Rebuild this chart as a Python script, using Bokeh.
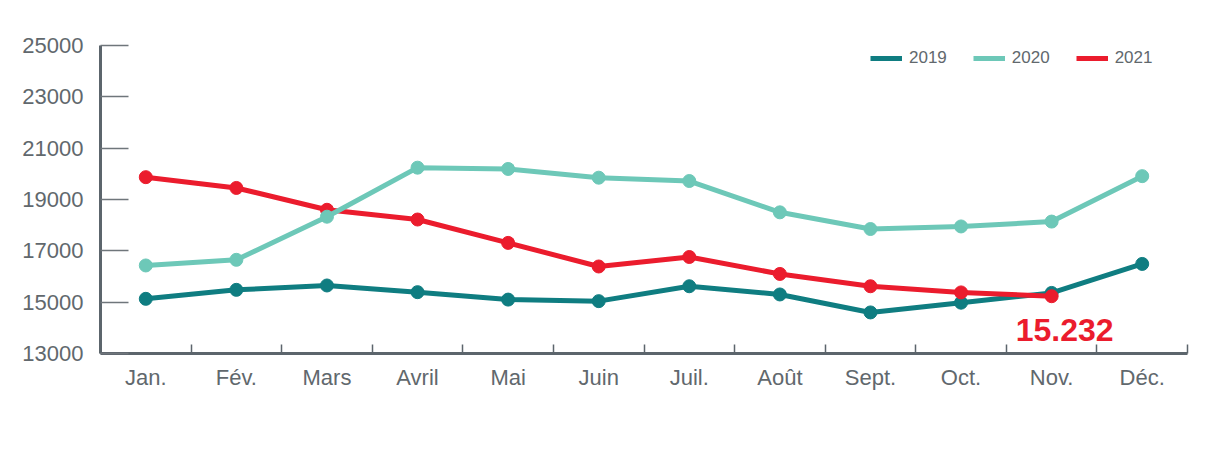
from bokeh.plotting import figure
from bokeh.models import (FixedTicker, Range1d, Legend, LegendItem, Label)
from bokeh.embed import file_html
from bokeh.resources import INLINE

months = ["Jan.", "Fév.", "Mars", "Avril", "Mai", "Juin", "Juil.", "Août",
          "Sept.", "Oct.", "Nov.", "Déc."]
y2019 = [15130, 15480, 15650, 15390, 15100, 15040, 15620, 15300, 14600, 14980, 15360, 16490]
y2020 = [16430, 16650, 18330, 20240, 20190, 19850, 19720, 18500, 17850, 17950, 18140, 19910]
y2021 = [19870, 19450, 18600, 18220, 17310, 16390, 16760, 16100, 15620, 15380, 15232]
y_ticks = [13000, 15000, 17000, 19000, 21000, 23000, 25000]

C2019 = "#0f7d81"
C2020 = "#6dc8b8"
C2021 = "#eb1c2d"
AXIS = "#5c656c"
LABEL = "#61686d"
FONT = "Liberation Sans"

xs = list(range(1, len(months) + 1))

p = figure(width=1208, height=436, output_backend="svg", toolbar_location=None,
           x_range=Range1d(0.5, 12.5), y_range=Range1d(13000, 25000),
           min_border_left=100, min_border_right=21, min_border_top=45,
           min_border_bottom=83)
p.outline_line_color = None
p.xgrid.grid_line_color = None
p.ygrid.grid_line_color = None
p.background_fill_color = "white"
p.border_fill_color = "white"

# x axis: labels at centres, small ticks between months
p.xaxis.ticker = FixedTicker(ticks=xs, minor_ticks=[x - 0.5 for x in xs] + [12.5])
p.xaxis.major_label_overrides = {x: m for x, m in zip(xs, months)}
p.xaxis.major_tick_line_color = None
p.xaxis.minor_tick_in = 9
p.xaxis.minor_tick_out = 0
p.xaxis.minor_tick_line_color = AXIS
p.xaxis.minor_tick_line_width = 1.5
p.xaxis.axis_line_color = AXIS
p.xaxis.axis_line_width = 3
p.xaxis.major_label_text_font = FONT
p.xaxis.major_label_text_font_size = "22px"
p.xaxis.major_label_text_color = LABEL
p.xaxis.major_label_standoff = 5

# y axis
p.yaxis.ticker = FixedTicker(ticks=y_ticks)
p.yaxis.major_tick_in = 28
p.yaxis.major_tick_out = 0
p.yaxis.major_tick_line_color = "#6f767b"
p.yaxis.major_tick_line_width = 1.5
p.yaxis.minor_tick_line_color = None
p.yaxis.axis_line_color = AXIS
p.yaxis.axis_line_width = 3
p.yaxis.major_label_text_font = FONT
p.yaxis.major_label_text_font_size = "22px"
p.yaxis.major_label_text_color = LABEL
p.yaxis.major_label_standoff = 17

r19 = p.line(xs, y2019, line_color=C2019, line_width=5)
p.scatter(xs, y2019, size=13, fill_color=C2019, line_color=C2019)
r21 = p.line(xs[:len(y2021)], y2021, line_color=C2021, line_width=5)
p.scatter(xs[:len(y2021)], y2021, size=13, fill_color=C2021, line_color=C2021)
r20 = p.line(xs, y2020, line_color=C2020, line_width=5)
p.scatter(xs, y2020, size=13, fill_color=C2020, line_color=C2020)

legend = Legend(items=[LegendItem(label="2019", renderers=[r19]),
                       LegendItem(label="2020", renderers=[r20]),
                       LegendItem(label="2021", renderers=[r21])],
                orientation="horizontal", location=(770, 285),
                glyph_width=32, glyph_height=20, label_standoff=7, spacing=26,
                padding=0, margin=0, border_line_color=None,
                background_fill_alpha=0,
                label_text_font=FONT, label_text_font_size="17px",
                label_text_color=LABEL)
p.add_layout(legend)

last_val = y2021[-1]
ann = Label(x=len(y2021), y=13900, x_offset=13,
            text=f"{last_val:,}".replace(",", "."),
            text_font=FONT, text_font_size="32px", text_font_style="bold",
            text_color=C2021, text_align="center", text_baseline="middle")
p.add_layout(ann)

open("out.html", "w").write(file_html(p, INLINE))
